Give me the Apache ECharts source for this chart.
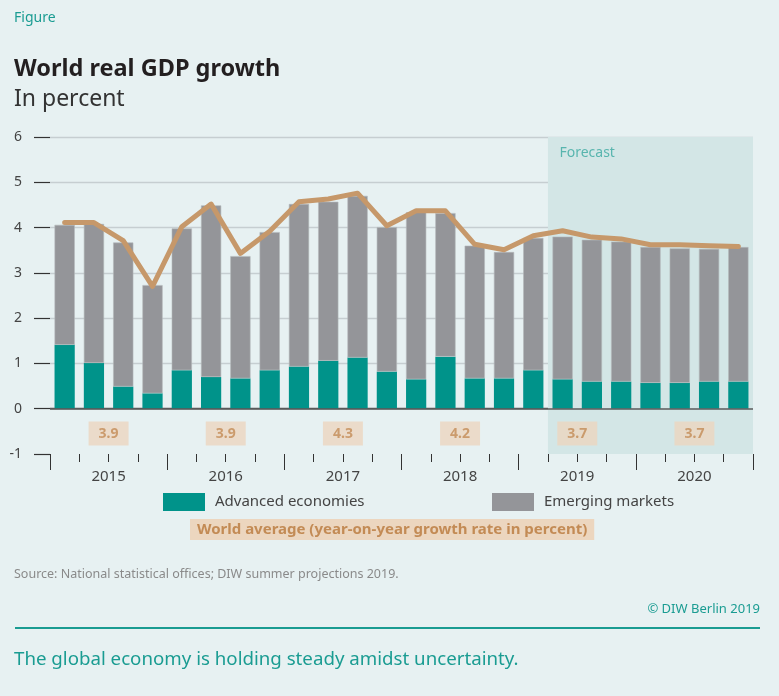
<!DOCTYPE html>
<html><head><meta charset="utf-8">
<script src="https://cdn.jsdelivr.net/npm/echarts@6/dist/echarts.min.js"></script>
<style>html,body{margin:0;padding:0;background:#e7f1f2;} #c{width:779px;height:696px;}</style>
</head><body><div id="c"></div>
<script>
const quarters = ['2015Q1','2015Q2','2015Q3','2015Q4','2016Q1','2016Q2','2016Q3','2016Q4',
  '2017Q1','2017Q2','2017Q3','2017Q4','2018Q1','2018Q2','2018Q3','2018Q4',
  '2019Q1','2019Q2','2019Q3','2019Q4','2020Q1','2020Q2','2020Q3','2020Q4'];
const years = ['2015','2016','2017','2018','2019','2020'];
const advanced = [1.41,1.01,0.49,0.34,0.85,0.70,0.67,0.85,0.93,1.06,1.13,0.82,0.65,1.15,0.67,0.67,0.85,0.65,0.60,0.60,0.57,0.57,0.60,0.60];
const emerging = [2.65,3.07,3.18,2.39,3.13,3.79,2.70,3.05,3.59,3.51,3.57,3.19,3.69,3.17,2.93,2.79,2.92,3.15,3.13,3.09,3.00,2.97,2.93,2.97];
const worldQuarterly = [4.11,4.11,3.71,2.70,4.02,4.52,3.43,3.92,4.57,4.63,4.76,4.04,4.37,4.37,3.63,3.51,3.82,3.93,3.79,3.75,3.62,3.62,3.60,3.58];
const worldAnnual = [3.9,3.9,4.3,4.2,3.7,3.7];
const forecastFrom = 17; // index of first forecast quarter (2019Q2)

const TEAL = '#00938a', GRAY = '#949599', TAN = '#c6986a';
const FONT = 'Noto Sans';
const chart = echarts.init(document.getElementById('c'));

const annualPoints = worldAnnual.map((v, i) => [i * 4 + 2, -0.55, v]);

chart.setOption({
  backgroundColor: '#e7f1f2',
  animation: false,
  textStyle: { fontFamily: FONT },
  title: [
    { text: 'Figure', left: 14, top: 11, padding: 0, textStyle: { color: '#1a9c92', fontSize: 14, fontWeight: 'normal', fontFamily: FONT } },
    { text: 'World real GDP growth', left: 14, top: 57, padding: 0, textStyle: { color: '#231f20', fontSize: 23.5, fontWeight: 'bold', fontFamily: FONT } },
    { text: 'In percent', left: 14, top: 88, padding: 0, textStyle: { color: '#333', fontSize: 23, fontWeight: 'normal', fontFamily: FONT } },
    { text: 'World average (year-on-year growth rate in percent)', left: 190, top: 519, padding: [3, 7], backgroundColor: '#ecd6bf',
      textStyle: { color: '#c38b55', fontSize: 15, fontWeight: 'bold', fontFamily: FONT } },
    { text: 'Source: National statistical offices; DIW summer projections 2019.', left: 14, top: 568, padding: 0,
      textStyle: { color: '#8a8a8a', fontSize: 12.5, fontWeight: 'normal', fontFamily: FONT } },
    { text: '© DIW Berlin 2019', right: 19, top: 603, padding: 0, textStyle: { color: '#1a9c92', fontSize: 13, fontWeight: 'normal', fontFamily: FONT } },
    { text: 'The global economy is holding steady amidst uncertainty.', left: 14, top: 650, padding: 0,
      textStyle: { color: '#1a9c92', fontSize: 18.7, fontWeight: 'normal', fontFamily: FONT } }
  ],
  graphic: [
    { type: 'line', shape: { x1: 15, y1: 628, x2: 760, y2: 628 }, style: { stroke: '#1a9c92', lineWidth: 2 } }
  ],
  legend: [
    { data: [{ name: 'Advanced economies', icon: 'rect' }], left: 163, top: 493, padding: 0, itemWidth: 42, itemHeight: 18,
      itemStyle: { borderWidth: 0 },
      textStyle: { color: '#444', fontSize: 15, fontFamily: FONT, padding: [0, 0, 0, 5] }, selectedMode: false },
    { data: [{ name: 'Emerging markets', icon: 'rect' }], left: 492, top: 493, padding: 0, itemWidth: 42, itemHeight: 18,
      itemStyle: { borderWidth: 0 },
      textStyle: { color: '#444', fontSize: 15, fontFamily: FONT, padding: [0, 0, 0, 5] }, selectedMode: false }
  ],
  grid: { left: 50, right: 26, top: 137, bottom: 242, containLabel: false },
  xAxis: [
    { type: 'category', data: quarters, position: 'bottom', offset: 0, boundaryGap: true,
      axisLine: { show: false, onZero: false },
      axisTick: { show: true, interval: 0, length: 8, lineStyle: { color: '#333', width: 1 } },
      axisLabel: { show: false }, splitLine: { show: false } },
    { type: 'value', min: 0, max: 24, interval: 4, position: 'bottom', offset: 0,
      axisLine: { show: false, onZero: false },
      axisTick: { show: true, length: 16, lineStyle: { color: '#333', width: 1 } },
      axisLabel: { show: false }, splitLine: { show: false } },
    { type: 'value', min: 0, max: 24, interval: 2, position: 'bottom', offset: 0,
      axisLine: { show: false, onZero: false }, axisTick: { show: false },
      axisLabel: { show: true, margin: 15, color: '#444', fontSize: 15, fontFamily: FONT,
        formatter: v => (v % 4 === 2) ? years[(v - 2) / 4] : '' },
      splitLine: { show: false } }
  ],
  yAxis: {
    type: 'value', min: -1, max: 6, interval: 1,
    axisLine: { show: false },
    axisTick: { show: true, length: 16, lineStyle: { color: '#333', width: 1.2 } },
    axisLabel: { color: '#444', fontSize: 14, margin: 28, fontFamily: FONT },
    splitLine: { show: true, lineStyle: { color: ['rgba(0,0,0,0)', '#5a5a5a', '#c6ced1', '#c6ced1', '#c6ced1', '#c6ced1', '#c6ced1', '#c6ced1'], width: 1.3 } }
  },
  series: [
    { name: 'forecastArea', type: 'line', xAxisIndex: 1, data: [], z: 0, silent: true,
      markArea: { silent: true, itemStyle: { color: '#d3e6e6' },
        label: { show: false },
        data: [[{ xAxis: forecastFrom }, { xAxis: 24 }]] } },
    { name: 'forecastLabel', type: 'scatter', xAxisIndex: 2, data: [[forecastFrom, 6]], symbolSize: 1, z: 1, silent: true,
      itemStyle: { color: 'rgba(0,0,0,0)' },
      label: { show: true, position: 'right', formatter: 'Forecast', color: '#3aa9a0', fontSize: 14, fontFamily: FONT, offset: [6, 16] } },
    { name: 'Advanced economies', type: 'bar', stack: 'gdp', xAxisIndex: 0, data: advanced, barWidth: '69%',
      itemStyle: { color: TEAL }, z: 2 },
    { name: 'Emerging markets', type: 'bar', stack: 'gdp', xAxisIndex: 0, data: emerging, barWidth: '69%',
      itemStyle: { color: GRAY, borderColor: '#b3b8bb', borderWidth: 0.6 }, z: 2,
      markLine: { silent: true, symbol: 'none', label: { show: false }, lineStyle: { color: '#5a5a5a', width: 1.6, type: 'solid' },
        data: [{ yAxis: 0 }] } },
    { name: 'World average', type: 'line', xAxisIndex: 0, data: worldQuarterly, symbol: 'none', z: 5,
      lineStyle: { color: TAN, width: 5, cap: 'round', join: 'round' } },
    { name: 'World average annual', type: 'scatter', xAxisIndex: 2, data: annualPoints, symbolSize: 1, z: 6,
      itemStyle: { color: 'rgba(0,0,0,0)' },
      label: { show: true, position: 'inside', formatter: p => p.value[2].toFixed(1), color: '#c38b55', fontSize: 14,
        fontWeight: 'bold', fontFamily: FONT, backgroundColor: '#ecd6bf', padding: [5, 10] } }
  ]
});
</script></body></html>
